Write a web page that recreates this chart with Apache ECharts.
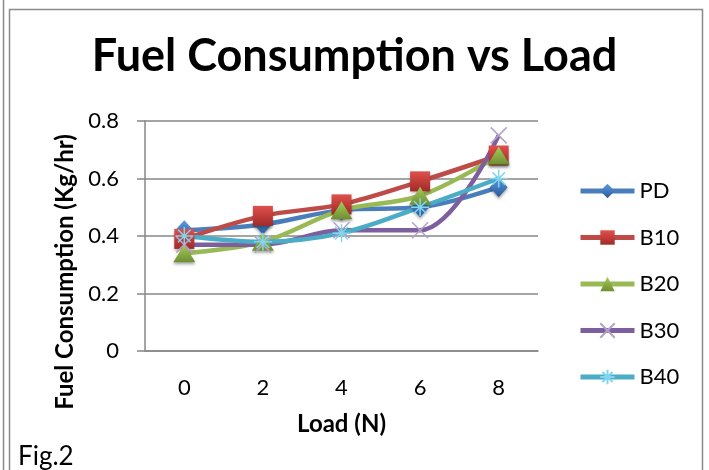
<!DOCTYPE html>
<html>
<head>
<meta charset="utf-8">
<style>
  html, body { margin: 0; padding: 0; background: #ffffff; }
  #chart { width: 709px; height: 470px; }
</style>
<script src="https://cdn.jsdelivr.net/npm/echarts@6/dist/echarts.min.js"></script>
</head>
<body>
<div id="chart"></div>
<script>
// Load steps (N)
const loads = ['0', '2', '4', '6', '8'];

// Fuel consumption (Kg/hr) per blend
const pd  = [0.42, 0.44, 0.49, 0.50, 0.57];
const b10 = [0.39, 0.47, 0.51, 0.59, 0.68];
const b20 = [0.34, 0.38, 0.49, 0.54, 0.68];
const b30 = [0.37, 0.37, 0.42, 0.42, 0.75];
const b40 = [0.40, 0.38, 0.41, 0.50, 0.60];

// Y axis ticks
const yTicks = [0, 0.2, 0.4, 0.6, 0.8];

const FONT = 'Lato';

const crossPath = 'path://M0,0L20,20M20,0L0,20';
const starPath = 'path://M10,0L10,20M0,10L20,10M3,3L17,17M17,3L3,17';

function shade(top, bottom) {
  return new echarts.graphic.LinearGradient(0, 0, 0, 1, [
    { offset: 0, color: top },
    { offset: 1, color: bottom }
  ]);
}

function makeSeries(name, data, lineColor, symbol, size, itemStyle) {
  return {
    name: name,
    type: 'line',
    data: data,
    smooth: 0.35,
    symbol: symbol,
    symbolSize: size,
    showAllSymbol: true,
    lineStyle: { color: lineColor, width: 4.5 },
    itemStyle: itemStyle,
    emphasis: { disabled: true }
  };
}

const chart = echarts.init(document.getElementById('chart'), null, { renderer: 'canvas' });

chart.setOption({
  animation: false,
  backgroundColor: '#ffffff',
  title: {
    text: 'Fuel Consumption vs Load',
    left: 'center',
    top: 29,
    textStyle: { fontFamily: FONT, fontWeight: 'bold', fontSize: 45, color: '#000000' }
  },
  legend: {
    orient: 'vertical',
    left: 573,
    top: 175,
    itemWidth: 54,
    itemHeight: 18,
    itemGap: 24.5,
    lineStyle: { width: 5 },
    textStyle: { fontFamily: FONT, fontSize: 22, color: '#000000' },
    data: ['PD', 'B10', 'B20', 'B30', 'B40']
  },
  grid: { left: 145, right: 171, top: 121, bottom: 119, containLabel: false },
  xAxis: {
    type: 'category',
    data: loads,
    boundaryGap: true,
    name: 'Load (N)',
    nameLocation: 'middle',
    nameGap: 61,
    nameTextStyle: { fontFamily: FONT, fontWeight: 'bold', fontSize: 24, color: '#000000' },
    axisLine: { lineStyle: { color: '#878787', width: 1.5 } },
    axisTick: { show: false },
    axisLabel: { fontFamily: FONT, fontSize: 22, color: '#000000', margin: 26 }
  },
  yAxis: {
    type: 'value',
    min: yTicks[0],
    max: yTicks[yTicks.length - 1],
    interval: 0.2,
    axisLine: { show: true, lineStyle: { color: '#878787', width: 1.5 } },
    axisTick: { show: true, length: 8, lineStyle: { color: '#878787', width: 1.5 } },
    splitLine: { lineStyle: { color: '#878787', width: 1.5 } },
    axisLabel: {
      fontFamily: FONT, fontSize: 22, color: '#000000', margin: 26,
      formatter: v => (v === 0 ? '0' : v.toFixed(1))
    }
  },
  series: [
    makeSeries('PD', pd, '#4a7ebb', 'diamond', [18, 20], {
      color: shade('#5b9be0', '#2a5a9a'),
      shadowColor: 'rgba(0,0,0,0.35)', shadowBlur: 3, shadowOffsetY: 2
    }),
    makeSeries('B10', b10, '#be4b48', 'rect', 20, {
      color: shade('#e0504c', '#a02a27'),
      shadowColor: 'rgba(0,0,0,0.35)', shadowBlur: 3, shadowOffsetY: 2
    }),
    makeSeries('B20', b20, '#98b954', 'triangle', [22, 18], {
      color: shade('#a6cc5a', '#6e8f32'),
      shadowColor: 'rgba(0,0,0,0.35)', shadowBlur: 3, shadowOffsetY: 2
    }),
    makeSeries('B30', b30, '#7d5fa0', crossPath, 16, {
      color: 'rgba(0,0,0,0)',
      borderColor: '#b3a2c7', borderWidth: 1.5
    }),
    makeSeries('B40', b40, '#4bacc6', starPath, 18, {
      color: 'rgba(0,0,0,0)',
      borderColor: '#7fd6ee', borderWidth: 1.5
    })
  ],
  graphic: [
    { type: 'line', shape: { x1: 3.5, y1: 0, x2: 3.5, y2: 470 }, style: { stroke: '#8a8a8a', lineWidth: 1.5 }, silent: true },
    { type: 'rect', shape: { x: 9.5, y: 9.5, width: 693, height: 480 }, style: { fill: 'none', stroke: '#8a8a8a', lineWidth: 1.5 }, silent: true },
    {
      type: 'text', x: 65, y: 272, rotation: Math.PI / 2,
      style: {
        text: 'Fuel Consumption (Kg/hr)', fontFamily: FONT, fontWeight: 'bold', fontSize: 24,
        fill: '#000000', align: 'center', verticalAlign: 'middle'
      },
      silent: true
    },
    { type: 'text', left: 18, top: 444, style: { text: 'Fig.2', fontFamily: FONT, fontSize: 26, fill: '#000000' }, silent: true }
  ]
});
</script>
</body>
</html>
